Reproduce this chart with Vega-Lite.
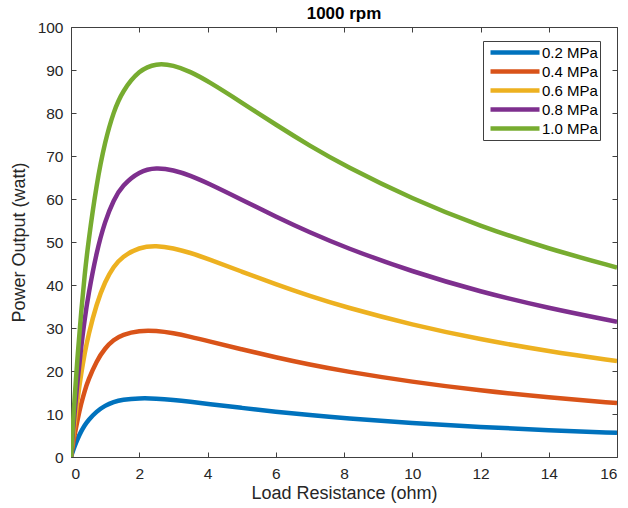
{
  "$schema": "https://vega.github.io/schema/vega-lite/v6.json",
  "width": 546,
  "height": 430,
  "padding": {"left": 71, "top": 27, "right": 11, "bottom": 51},
  "autosize": {"type": "none"},
  "background": "white",
  "config": {
    "font": "Liberation Sans",
    "view": {"stroke": "#404040", "strokeWidth": 1},
    "axis": {"grid": false, "domain": false, "tickColor": "#404040", "tickSize": -5, "labelColor": "#262626", "titleColor": "#262626", "labelFont": "Liberation Sans", "titleFont": "Liberation Sans", "labelFontSize": 15.5, "titleFontSize": 18, "titleFontWeight": "normal"}
  },
  "title": {"text": "1000 rpm", "fontSize": 17, "fontWeight": "bold", "font": "Liberation Sans", "color": "#000000", "baseline": "alphabetic", "offset": 6, "dy": 22},
  "data": {"values": [
    {"R": 0, "P": 0, "s": "0.2 MPa"}, {"R": 0.05, "P": 1.245, "s": "0.2 MPa"}, {"R": 0.1, "P": 2.378, "s": "0.2 MPa"}, {"R": 0.2, "P": 4.352, "s": "0.2 MPa"}, {"R": 0.3, "P": 5.995, "s": "0.2 MPa"}, {"R": 0.4, "P": 7.366, "s": "0.2 MPa"}, {"R": 0.5, "P": 8.513, "s": "0.2 MPa"}, {"R": 0.75, "P": 10.628, "s": "0.2 MPa"}, {"R": 1, "P": 11.977, "s": "0.2 MPa"}, {"R": 1.25, "P": 12.82, "s": "0.2 MPa"}, {"R": 1.5, "P": 13.322, "s": "0.2 MPa"}, {"R": 2, "P": 13.694, "s": "0.2 MPa"}, {"R": 2.5, "P": 13.599, "s": "0.2 MPa"}, {"R": 3, "P": 13.276, "s": "0.2 MPa"}, {"R": 3.5, "P": 12.846, "s": "0.2 MPa"}, {"R": 4, "P": 12.373, "s": "0.2 MPa"}, {"R": 5, "P": 11.416, "s": "0.2 MPa"}, {"R": 6, "P": 10.526, "s": "0.2 MPa"}, {"R": 7, "P": 9.729, "s": "0.2 MPa"}, {"R": 8, "P": 9.026, "s": "0.2 MPa"}, {"R": 10, "P": 7.861, "s": "0.2 MPa"}, {"R": 12, "P": 6.947, "s": "0.2 MPa"}, {"R": 14, "P": 6.217, "s": "0.2 MPa"}, {"R": 16, "P": 5.621, "s": "0.2 MPa"},
    {"R": 0, "P": 0, "s": "0.4 MPa"}, {"R": 0.05, "P": 2.564, "s": "0.4 MPa"}, {"R": 0.1, "P": 4.907, "s": "0.4 MPa"}, {"R": 0.2, "P": 9.014, "s": "0.4 MPa"}, {"R": 0.3, "P": 12.461, "s": "0.4 MPa"}, {"R": 0.4, "P": 15.361, "s": "0.4 MPa"}, {"R": 0.5, "P": 17.805, "s": "0.4 MPa"}, {"R": 0.75, "P": 22.373, "s": "0.4 MPa"}, {"R": 1, "P": 25.352, "s": "0.4 MPa"}, {"R": 1.25, "P": 27.263, "s": "0.4 MPa"}, {"R": 1.5, "P": 28.444, "s": "0.4 MPa"}, {"R": 2, "P": 29.433, "s": "0.4 MPa"}, {"R": 2.5, "P": 29.38, "s": "0.4 MPa"}, {"R": 3, "P": 28.802, "s": "0.4 MPa"}, {"R": 3.5, "P": 27.965, "s": "0.4 MPa"}, {"R": 4, "P": 27.013, "s": "0.4 MPa"}, {"R": 5, "P": 25.039, "s": "0.4 MPa"}, {"R": 6, "P": 23.165, "s": "0.4 MPa"}, {"R": 7, "P": 21.47, "s": "0.4 MPa"}, {"R": 8, "P": 19.962, "s": "0.4 MPa"}, {"R": 10, "P": 17.442, "s": "0.4 MPa"}, {"R": 12, "P": 15.449, "s": "0.4 MPa"}, {"R": 14, "P": 13.849, "s": "0.4 MPa"}, {"R": 16, "P": 12.54, "s": "0.4 MPa"},
    {"R": 0, "P": 0, "s": "0.6 MPa"}, {"R": 0.05, "P": 3.934, "s": "0.6 MPa"}, {"R": 0.1, "P": 7.557, "s": "0.6 MPa"}, {"R": 0.2, "P": 13.973, "s": "0.6 MPa"}, {"R": 0.3, "P": 19.436, "s": "0.6 MPa"}, {"R": 0.4, "P": 24.097, "s": "0.6 MPa"}, {"R": 0.5, "P": 28.08, "s": "0.6 MPa"}, {"R": 0.75, "P": 35.699, "s": "0.6 MPa"}, {"R": 1, "P": 40.856, "s": "0.6 MPa"}, {"R": 1.25, "P": 44.314, "s": "0.6 MPa"}, {"R": 1.5, "P": 46.578, "s": "0.6 MPa"}, {"R": 2, "P": 48.791, "s": "0.6 MPa"}, {"R": 2.5, "P": 49.177, "s": "0.6 MPa"}, {"R": 3, "P": 48.591, "s": "0.6 MPa"}, {"R": 3.5, "P": 47.488, "s": "0.6 MPa"}, {"R": 4, "P": 46.123, "s": "0.6 MPa"}, {"R": 5, "P": 43.124, "s": "0.6 MPa"}, {"R": 6, "P": 40.162, "s": "0.6 MPa"}, {"R": 7, "P": 37.416, "s": "0.6 MPa"}, {"R": 8, "P": 34.933, "s": "0.6 MPa"}, {"R": 10, "P": 30.717, "s": "0.6 MPa"}, {"R": 12, "P": 27.332, "s": "0.6 MPa"}, {"R": 14, "P": 24.584, "s": "0.6 MPa"}, {"R": 16, "P": 22.32, "s": "0.6 MPa"},
    {"R": 0, "P": 0, "s": "0.8 MPa"}, {"R": 0.05, "P": 5.175, "s": "0.8 MPa"}, {"R": 0.1, "P": 9.956, "s": "0.8 MPa"}, {"R": 0.2, "P": 18.464, "s": "0.8 MPa"}, {"R": 0.3, "P": 25.753, "s": "0.8 MPa"}, {"R": 0.4, "P": 32.01, "s": "0.8 MPa"}, {"R": 0.5, "P": 37.389, "s": "0.8 MPa"}, {"R": 0.75, "P": 47.787, "s": "0.8 MPa"}, {"R": 1, "P": 54.939, "s": "0.8 MPa"}, {"R": 1.25, "P": 59.822, "s": "0.8 MPa"}, {"R": 1.5, "P": 63.094, "s": "0.8 MPa"}, {"R": 2, "P": 66.469, "s": "0.8 MPa"}, {"R": 2.5, "P": 67.3, "s": "0.8 MPa"}, {"R": 3, "P": 66.744, "s": "0.8 MPa"}, {"R": 3.5, "P": 65.431, "s": "0.8 MPa"}, {"R": 4, "P": 63.716, "s": "0.8 MPa"}, {"R": 5, "P": 59.822, "s": "0.8 MPa"}, {"R": 6, "P": 55.889, "s": "0.8 MPa"}, {"R": 7, "P": 52.199, "s": "0.8 MPa"}, {"R": 8, "P": 48.835, "s": "0.8 MPa"}, {"R": 10, "P": 43.072, "s": "0.8 MPa"}, {"R": 12, "P": 38.411, "s": "0.8 MPa"}, {"R": 14, "P": 34.608, "s": "0.8 MPa"}, {"R": 16, "P": 31.462, "s": "0.8 MPa"},
    {"R": 0, "P": 0, "s": "1.0 MPa"}, {"R": 0.05, "P": 6.782, "s": "1.0 MPa"}, {"R": 0.1, "P": 13.067, "s": "1.0 MPa"}, {"R": 0.2, "P": 24.301, "s": "1.0 MPa"}, {"R": 0.3, "P": 33.981, "s": "1.0 MPa"}, {"R": 0.4, "P": 42.338, "s": "1.0 MPa"}, {"R": 0.5, "P": 49.563, "s": "1.0 MPa"}, {"R": 0.75, "P": 63.662, "s": "1.0 MPa"}, {"R": 1, "P": 73.503, "s": "1.0 MPa"}, {"R": 1.25, "P": 80.334, "s": "1.0 MPa"}, {"R": 1.5, "P": 85.003, "s": "1.0 MPa"}, {"R": 2, "P": 90.038, "s": "1.0 MPa"}, {"R": 2.5, "P": 91.561, "s": "1.0 MPa"}, {"R": 3, "P": 91.129, "s": "1.0 MPa"}, {"R": 3.5, "P": 89.602, "s": "1.0 MPa"}, {"R": 4, "P": 87.475, "s": "1.0 MPa"}, {"R": 5, "P": 82.462, "s": "1.0 MPa"}, {"R": 6, "P": 77.28, "s": "1.0 MPa"}, {"R": 7, "P": 72.355, "s": "1.0 MPa"}, {"R": 8, "P": 67.825, "s": "1.0 MPa"}, {"R": 10, "P": 60.003, "s": "1.0 MPa"}, {"R": 12, "P": 53.627, "s": "1.0 MPa"}, {"R": 14, "P": 48.398, "s": "1.0 MPa"}, {"R": 16, "P": 44.056, "s": "1.0 MPa"}
  ]},
  "layer": [
    {
      "mark": {"type": "line", "strokeWidth": 4.5, "interpolate": "basis", "clip": true},
      "encoding": {
        "x": {"field": "R", "type": "quantitative", "scale": {"domain": [0, 16], "nice": false}, "axis": {"title": "Load Resistance (ohm)", "values": [0, 2, 4, 6, 8, 10, 12, 14, 16], "labelPadding": 14, "titleY": 27}},
        "y": {"field": "P", "type": "quantitative", "scale": {"domain": [0, 100], "nice": false}, "axis": {"title": "Power Output (watt)", "values": [0, 10, 20, 30, 40, 50, 60, 70, 80, 90, 100], "labelPadding": 13, "titlePadding": 9}},
        "color": {"field": "s", "type": "nominal", "title": null,
          "scale": {"domain": ["0.2 MPa", "0.4 MPa", "0.6 MPa", "0.8 MPa", "1.0 MPa"], "range": ["#0072BD", "#D95319", "#EDB120", "#7E2F8E", "#77AC30"]},
          "legend": {"orient": "none", "legendX": 412, "legendY": 14, "symbolType": "M-0.57,0H6.43", "symbolSize": 196, "symbolStrokeWidth": 4.5, "labelFontSize": 15, "labelFont": "Liberation Sans", "labelColor": "#000000", "strokeColor": "#404040", "fillColor": "white", "padding": 2, "rowPadding": 0, "labelOffset": 38}}
      }
    },
    {
      "mark": {"type": "line", "opacity": 0},
      "encoding": {
        "x": {"field": "R", "type": "quantitative", "axis": {"orient": "top", "title": null, "labels": false, "values": [0, 2, 4, 6, 8, 10, 12, 14, 16]}},
        "y": {"field": "P", "type": "quantitative", "axis": {"orient": "right", "title": null, "labels": false, "values": [0, 10, 20, 30, 40, 50, 60, 70, 80, 90, 100]}},
        "detail": {"field": "s"}
      }
    }
  ],
  "resolve": {"axis": {"x": "independent", "y": "independent"}}
}
